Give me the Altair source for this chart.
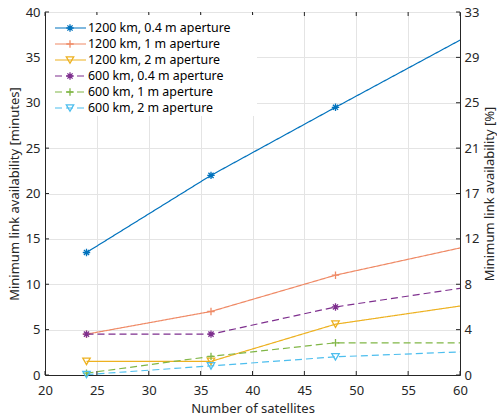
import json
import altair as alt
import pandas as pd

# ---------------- data ----------------
sats = [24, 36, 48, 60]
series = [
    "1200 km, 0.4 m aperture",
    "1200 km, 1 m aperture",
    "1200 km, 2 m aperture",
    "600 km, 0.4 m aperture",
    "600 km, 1 m aperture",
    "600 km, 2 m aperture",
]
v_1200_04 = [13.5, 22.0, 29.5, 36.9]
v_1200_1 = [4.5, 7.0, 11.0, 14.0]
v_1200_2 = [1.5, 1.5, 5.6, 7.6]
v_600_04 = [4.5, 4.5, 7.5, 9.55]
v_600_1 = [0.2, 2.05, 3.55, 3.55]
v_600_2 = [0.05, 1.0, 2.0, 2.55]

x_ticks = [20, 25, 30, 35, 40, 45, 50, 55, 60]
y_ticks = [0, 5, 10, 15, 20, 25, 30, 35, 40]
right_labels = ["0", "4", "8", "12", "17", "21", "25", "29", "33"]

# ---------------- styles ----------------
colors = ["#0072BD", "#EF8A66", "#EDB120", "#7E2F8E", "#80B646", "#4DBEEE"]
dashes = [[1, 0], [1, 0], [1, 0], [7, 4], [7, 4], [7, 4]]
ASTER = "M-1,0L1,0M0,-1L0,1M-0.7,-0.7L0.7,0.7M-0.7,0.7L0.7,-0.7"
PLUS = "M-1,0L1,0M0,-1L0,1"
shapes = [ASTER, PLUS, "triangle-down", ASTER, PLUS, "triangle-down"]

W, H = 415, 363
FONT = "Noto Sans"
DARK = "#262626"

all_vals = [v_1200_04, v_1200_1, v_1200_2, v_600_04, v_600_1, v_600_2]
rows = []
for name, vals in zip(series, all_vals):
    for s, v in zip(sats, vals):
        rows.append({"sats": s, "minutes": v, "series": name})
df = pd.DataFrame(rows)
xt_df = pd.DataFrame({"sats": x_ticks})
yt_df = pd.DataFrame({"minutes": y_ticks})
leg_df = pd.DataFrame({"series": series})

xscale = alt.Scale(domain=[20, 60], nice=False, zero=False)
yscale = alt.Scale(domain=[0, 40], nice=False, zero=False)
cscale = alt.Scale(domain=series, range=colors)
dscale = alt.Scale(domain=series, range=dashes)
sscale = alt.Scale(domain=series, range=shapes)

x_axis = alt.Axis(values=x_ticks, title="Number of satellites", ticks=False,
                  labelPadding=9, titlePadding=5, labelFlush=False, grid=True)
y_axis = alt.Axis(values=y_ticks, title="Minimum link availability [minutes]",
                  ticks=False, labelPadding=5, titlePadding=4, labelFlush=False, grid=True)

X = alt.X("sats:Q", scale=xscale, axis=x_axis)
Y = alt.Y("minutes:Q", scale=yscale, axis=y_axis)

lines = alt.Chart(df).mark_line(strokeWidth=1.2, clip=True).encode(
    x=X, y=Y,
    color=alt.Color("series:N", scale=cscale, legend=None),
    strokeDash=alt.StrokeDash("series:N", scale=dscale, legend=None),
    detail="series:N",
)
points = alt.Chart(df).transform_filter(alt.datum.sats < 60).mark_point(
    filled=False, size=55, strokeWidth=1.3, opacity=1
).encode(
    x=X, y=Y,
    color=alt.Color("series:N", scale=cscale, legend=None),
    shape=alt.Shape("series:N", scale=sscale, legend=None),
)

tick_color = DARK
bottom_ticks = alt.Chart(xt_df).mark_rule(color=tick_color).encode(
    x=X, y=alt.value(H), y2=alt.value(H - 4))
top_ticks = alt.Chart(xt_df).mark_rule(color=tick_color).encode(
    x=X, y=alt.value(0), y2=alt.value(4))
left_ticks = alt.Chart(yt_df).mark_rule(color=tick_color).encode(
    y=Y, x=alt.value(0), x2=alt.value(4))

plot = alt.layer(lines, points, bottom_ticks, top_ticks, left_ticks)

label_expr = json.dumps(right_labels) + "[round(datum.value/5)]"
right_axis = alt.Axis(orient="right", values=y_ticks, labelExpr=label_expr,
                      title="Minimum link availability [%]", titleAngle=270,
                      titleBaseline="top", ticks=False, grid=False,
                      labelPadding=4, titlePadding=5, labelFlush=False)
right_ticks = alt.Chart(yt_df).mark_rule(color=tick_color).encode(
    y=alt.Y("minutes:Q", scale=yscale, axis=right_axis),
    x=alt.value(W - 4), x2=alt.value(W),
)

# legend
box = alt.Chart(pd.DataFrame({"k": [0]})).mark_rect(color="white").encode(
    x=alt.value(1), x2=alt.value(212), y=alt.value(3), y2=alt.value(104))
ly = alt.Y("series:N", scale=alt.Scale(type="point", domain=series, range=[16, 96], padding=0), axis=None)
leg_lines = alt.Chart(leg_df).mark_rule(strokeWidth=1.2).encode(
    y=ly, x=alt.value(10), x2=alt.value(41),
    color=alt.Color("series:N", scale=cscale, legend=None),
    strokeDash=alt.StrokeDash("series:N", scale=dscale, legend=None),
)
leg_pts = alt.Chart(leg_df).mark_point(filled=False, size=55, strokeWidth=1.3, opacity=1).encode(
    y=ly, x=alt.value(25),
    color=alt.Color("series:N", scale=cscale, legend=None),
    shape=alt.Shape("series:N", scale=sscale, legend=None),
)
leg_text = alt.Chart(leg_df).mark_text(align="left", baseline="middle", fontSize=12.4,
                                       font=FONT, color="#000000").encode(
    y=ly, x=alt.value(43), text="series:N")
legend = alt.layer(leg_lines, leg_pts, leg_text)

chart = alt.layer(plot, box, legend, right_ticks).resolve_scale(
    y="independent"
).properties(
    width=W, height=H,
    autosize=alt.AutoSizeParams(type="none"),
    padding={"left": 45, "right": 37, "top": 12, "bottom": 45},
).configure_view(
    stroke=DARK, strokeWidth=1
).configure_axis(
    labelFont=FONT, titleFont=FONT, labelFontSize=13, titleFontSize=13,
    labelColor=DARK, titleColor=DARK, titleFontWeight="normal",
    domainColor=DARK, domainWidth=1, gridColor="#e4e4e4", gridWidth=1,
)

chart.save("out.html", embed_options={"renderer": "svg", "actions": False})
